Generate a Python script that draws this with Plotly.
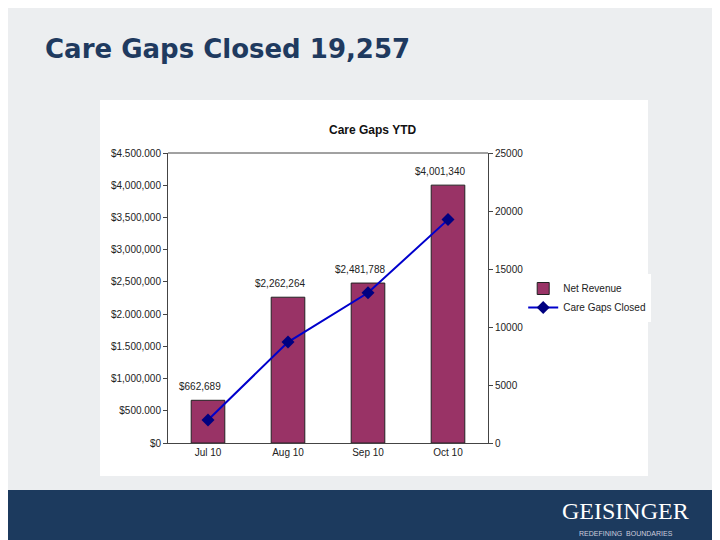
import plotly.graph_objects as go

months = ["Jul 10", "Aug 10", "Sep 10", "Oct 10"]
revenue = [662689, 2262264, 2481788, 4001340]
revenue_labels = ["$662,689", "$2,262,264", "$2,481,788", "$4,001,340"]
gaps = [1980, 8700, 12950, 19257]
left_ticks = list(range(0, 4500001, 500000))
left_labels = ["$0", "$500.000", "$1,000,000", "$1.500,000", "$2.000.000", "$2,500,000",
               "$3,000,000", "$3,500,000", "$4,000,000", "$4.500.000"]
right_ticks = list(range(0, 25001, 5000))

fig = go.Figure()
fig.add_trace(go.Bar(x=months, y=revenue, name="Net Revenue",
                     marker=dict(color="#993366", line=dict(color="#222", width=1)), width=0.42))
fig.add_trace(go.Scatter(x=months, y=gaps, name="Care Gaps Closed", yaxis="y2", mode="lines+markers",
                         line=dict(color="#0000CC", width=2), marker=dict(symbol="diamond", size=10, color="#000080")))

ann = [dict(x=m, y=v, text=t, showarrow=False, yshift=14, xshift=-8, yref="y", xref="x",
            font=dict(size=10, color="#222")) for m, v, t in zip(months, revenue, revenue_labels)]

fig.update_layout(
    width=720, height=540, autosize=False,
    paper_bgcolor="#eceef0", plot_bgcolor="#c0c0c0",
    margin=dict(l=160, r=240, t=145, b=105),
    font=dict(family="Liberation Sans, Arial", size=10, color="#222"),
    showlegend=True,
    legend=dict(x=1.11, y=0.5, xanchor="left", yanchor="middle", bgcolor="white", font=dict(size=10), tracegroupgap=0, itemwidth=30),
    xaxis=dict(showline=True, linecolor="#444", ticks="", tickfont=dict(size=10)),
    yaxis=dict(range=[0, 4500000], tickvals=left_ticks, ticktext=left_labels,
               showgrid=False, showline=True, linecolor="#444", ticks="outside", ticklen=4),
    yaxis2=dict(range=[0, 25000], tickvals=right_ticks, ticktext=[str(v) for v in right_ticks], overlaying="y", side="right",
                showgrid=False, showline=True, linecolor="#444", ticks="outside", ticklen=4),
    bargap=0.5,
    shapes=[
        dict(type="rect", xref="paper", yref="paper", x0=-0.2125, x1=1.5, y0=-0.114, y1=1.183, fillcolor="white", line=dict(width=0), layer="below"),
        dict(type="rect", xref="paper", yref="paper", x0=-0.6, x1=1.8, y0=-0.35, y1=-0.162, fillcolor="#1c3a5e", line=dict(width=0), layer="below"),
        dict(type="line", xref="paper", yref="paper", x0=0, x1=1, y0=1, y1=1, line=dict(color="#444", width=1)),
        dict(type="line", xref="paper", yref="paper", x0=1.13, x1=1.49, y0=0.54, y1=0.54, line=dict(color="#222", width=1)),
    ],
    annotations=ann + [
        dict(text="<b>Care Gaps Closed 19,257</b>", xref="paper", yref="paper", x=-0.39, y=1.36, xanchor="left", yanchor="middle",
             showarrow=False, font=dict(size=26, color="#1f3a5f", family="DejaVu Sans")),
        dict(text="<b>Care Gaps YTD</b>", xref="paper", yref="paper", x=0.64, y=1.11, showarrow=False, font=dict(size=12, color="#111")),
        dict(text="GEISINGER", xref="paper", yref="paper", x=1.43, y=-0.285, xanchor="center", showarrow=False,
             font=dict(size=24, color="white", family="Liberation Serif")),
        dict(text="REDEFINING  BOUNDARIES", xref="paper", yref="paper", x=1.43, y=-0.33, xanchor="center", showarrow=False,
             font=dict(size=7, color="#ccd", family="Liberation Sans")),
    ],
)
fig.write_html("out.html")
